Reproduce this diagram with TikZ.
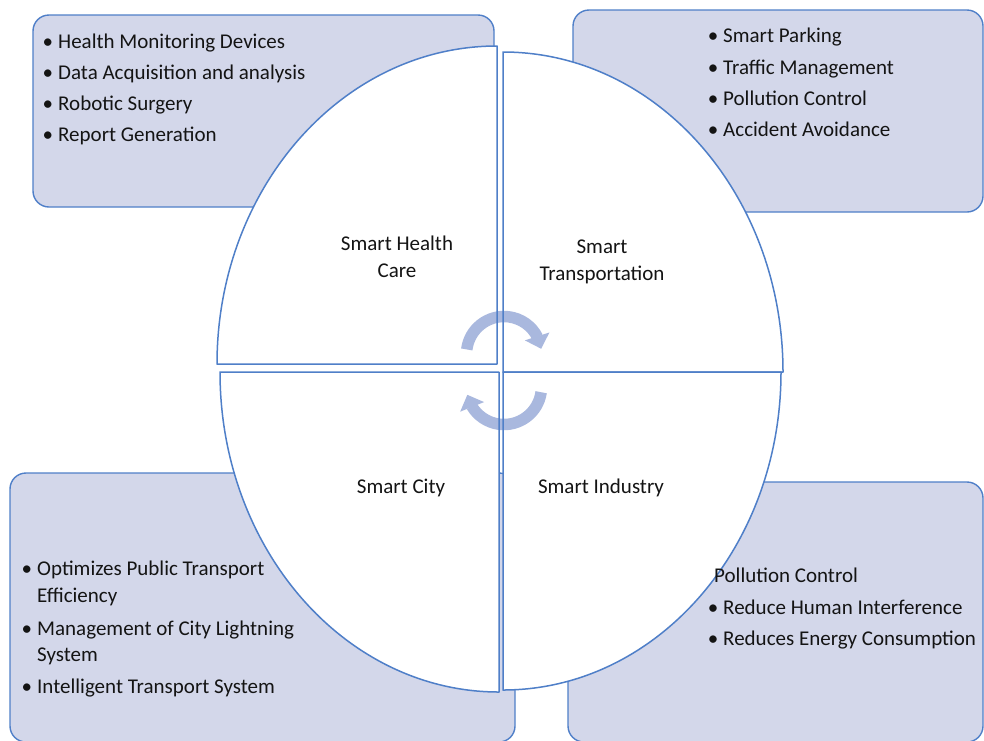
\documentclass[tikz,border=0pt]{standalone}
\usepackage{fontspec}
\setmainfont{Carlito}
\usetikzlibrary{arrows.meta,bending,calc}
\definecolor{boxfill}{HTML}{D3D7EA}
\definecolor{edgeblue}{HTML}{4F7FC8}
\definecolor{cyclecol}{HTML}{A9B8DE}
\definecolor{inktext}{HTML}{141414}

\begin{document}
\begin{tikzpicture}[x=1pt,y=-1pt,
  infobox/.style={fill=boxfill, draw=edgeblue, line width=1.4pt, rounded corners=16pt},
  quadline/.style={draw=edgeblue, line width=1.5pt, line join=round},
  itemtext/.style={anchor=base west, inner sep=0pt, font=\fontsize{21}{25}\selectfont, text=inktext},
  bulleted/.style={itemtext, execute at begin node={\llap{\textbullet\hspace{5pt}}}},
  sectorlabel/.style={anchor=base, inner sep=0pt, font=\fontsize{21}{25}\selectfont, text=inktext},
  cyclearrow/.style={draw=cyclecol, line width=11.5pt, -{Triangle[length=13pt,width=25pt,flex]}}
]
\useasboundingbox (0,0) rectangle (984,740);

% corner boxes holding the application lists
\draw[infobox] (33,15) rectangle (494,207);
\draw[infobox] (573,10) rectangle (983,212);
\draw[infobox] (10,473) rectangle (515,742);
\draw[infobox] (568,482) rectangle (983,742);

% four quarter-ellipse sectors: white fill first
\fill[white] (497,364) -- (217,364) arc[start angle=180, end angle=270, x radius=280, y radius=318] -- cycle;
\fill[white] (503,372) -- (503,52) arc[start angle=270, end angle=360, x radius=280, y radius=320] -- cycle;
\fill[white] (503,372) -- (781,372) arc[start angle=0, end angle=90, x radius=278, y radius=318] -- cycle;
\fill[white] (499,372) -- (499,692) arc[start angle=90, end angle=180, x radius=279, y radius=320] -- cycle;

% cycle arrows in the middle
\coordinate (ctop) at (504,354);
\coordinate (cbot) at (504,387);
\draw[cyclearrow] ($(ctop)+(187:37.5)$) arc[start angle=187, end angle=352, radius=37.5];
\draw[cyclearrow] ($(cbot)+(8:37.5)$) arc[start angle=8, end angle=168, radius=37.5];

% sector outlines on top
\draw[quadline] (497,364) -- (217,364) arc[start angle=180, end angle=270, x radius=280, y radius=318] -- cycle;
\draw[quadline] (503,372) -- (503,52) arc[start angle=270, end angle=360, x radius=280, y radius=320] -- cycle;
\draw[quadline] (503,372) -- (781,372) arc[start angle=0, end angle=90, x radius=278, y radius=318] -- cycle;
\draw[quadline] (499,372) -- (499,692) arc[start angle=90, end angle=180, x radius=279, y radius=320] -- cycle;

% sector titles
\node[sectorlabel] (hc1) at (397,250) {Smart Health};
\node[sectorlabel] (hc2) at (397,277) {Care};
\node[sectorlabel] (tr1) at (602,253) {Smart};
\node[sectorlabel] (tr2) at (602,280) {Transportation};
\node[sectorlabel] (sc) at (401,493) {Smart City};
\node[sectorlabel] (si) at (601,493) {Smart Industry};

% health care list
\node[bulleted] (h1) at (58,48) {Health Monitoring Devices};
\node[bulleted] (h2) at (58,79) {Data Acquisition and analysis};
\node[bulleted] (h3) at (58,110) {Robotic Surgery};
\node[bulleted] (h4) at (58,141) {Report Generation};

% transportation list
\node[bulleted] (t1) at (723,42) {Smart Parking};
\node[bulleted] (t2) at (723,74) {Traffic Management};
\node[bulleted] (t3) at (723,105) {Pollution Control};
\node[bulleted] (t4) at (723,136) {Accident Avoidance};

% city list
\node[bulleted] (c1) at (37,575) {Optimizes Public Transport};
\node[itemtext] (c1b) at (37,602) {Efficiency};
\node[bulleted] (c2) at (37,635) {Management of City Lightning};
\node[itemtext] (c2b) at (37,661) {System};
\node[bulleted] (c3) at (37,693) {Intelligent Transport System};

% industry list
\node[itemtext] (i0) at (714,582) {Pollution Control};
\node[bulleted] (i1) at (723,614) {Reduce Human Interference};
\node[bulleted] (i2) at (723,645) {Reduces Energy Consumption};
\end{tikzpicture}
\end{document}
